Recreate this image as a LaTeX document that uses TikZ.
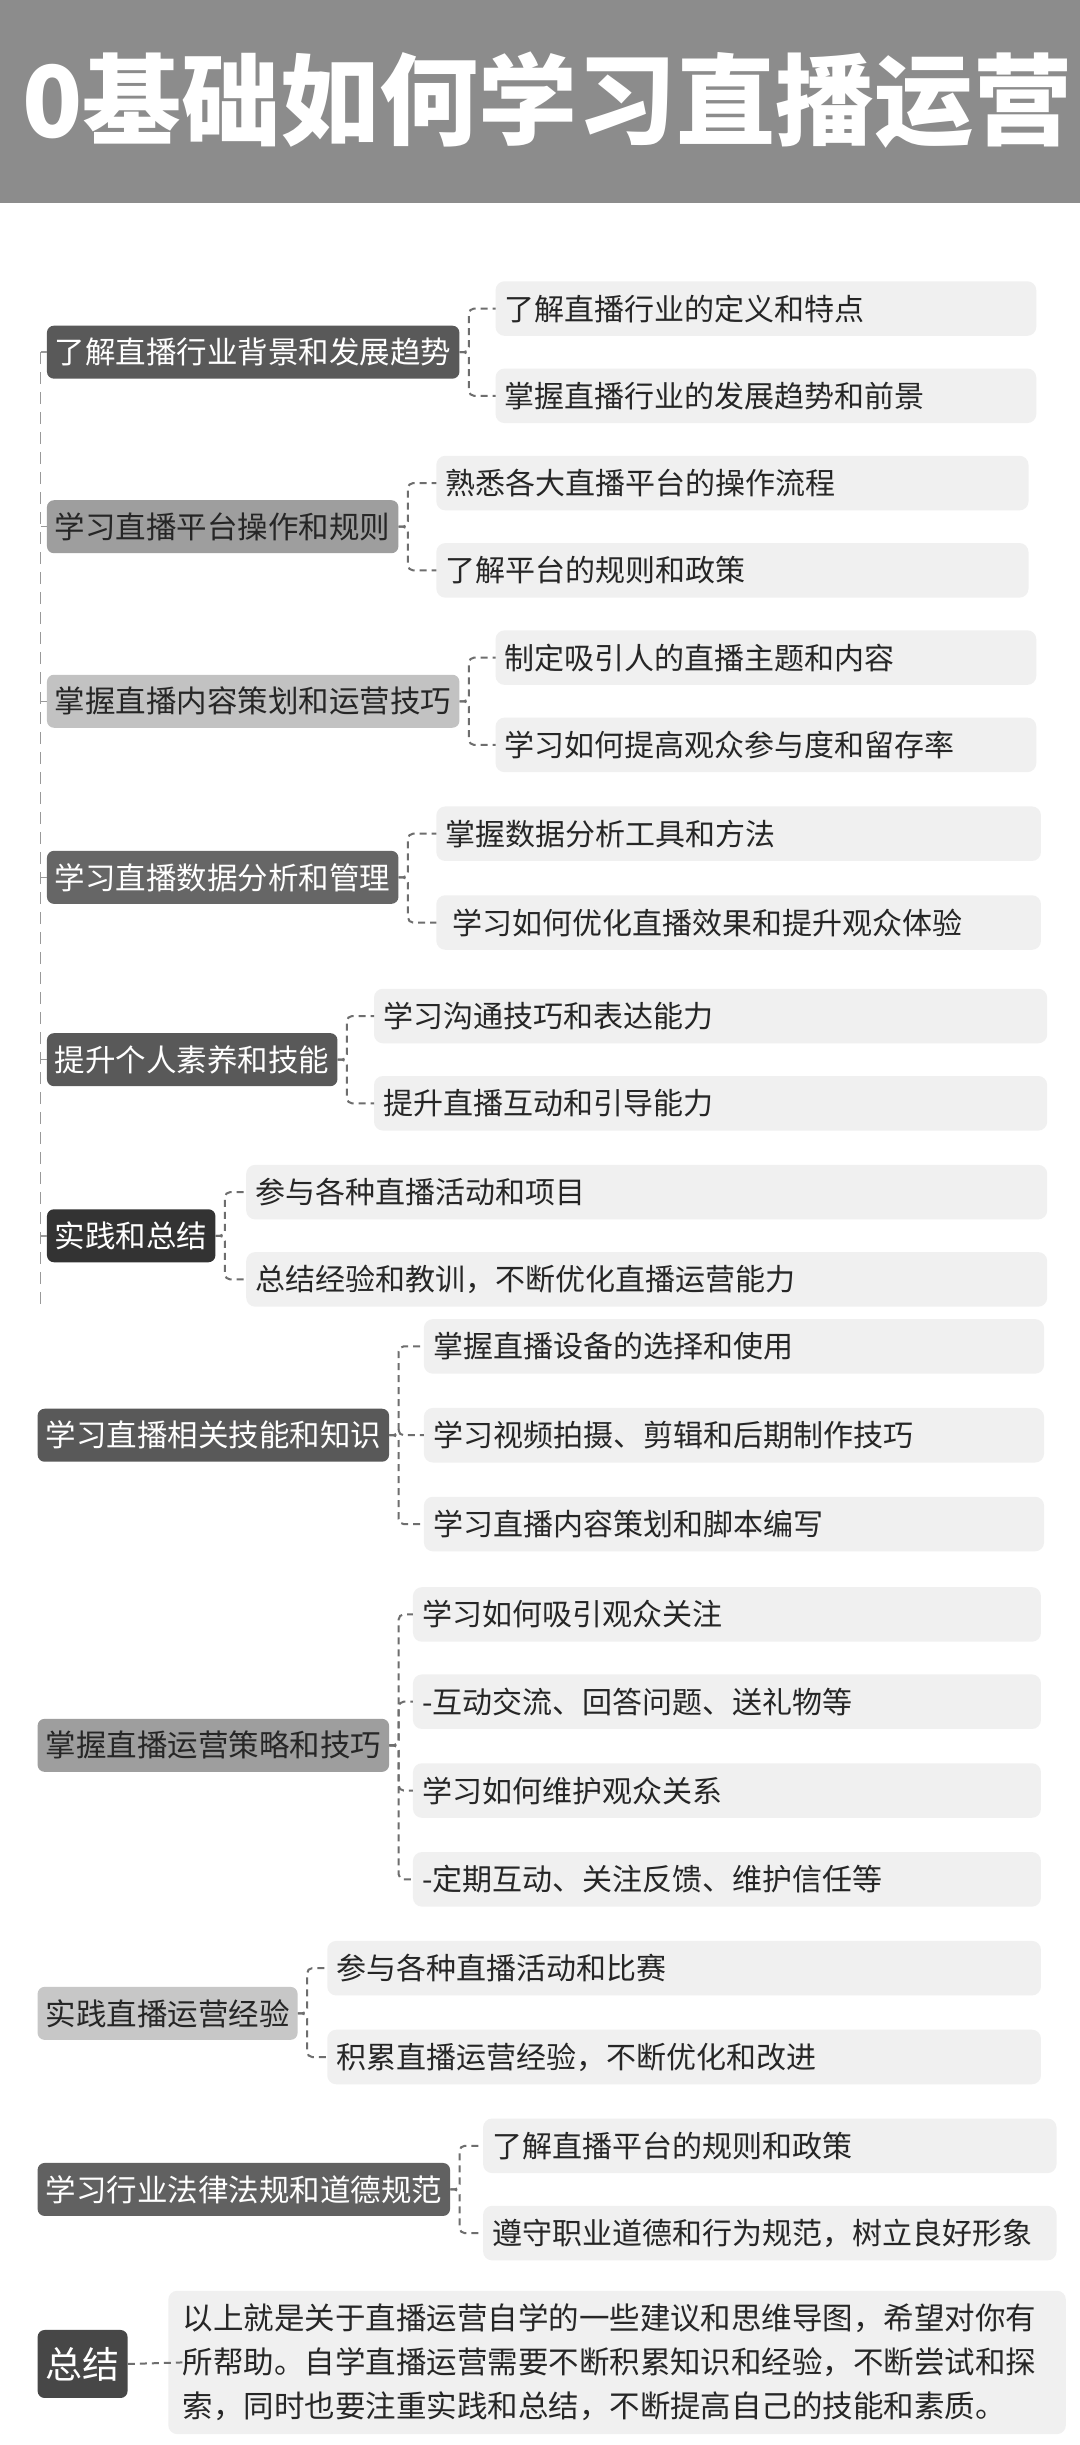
\documentclass[tikz,border=0pt]{standalone}
\usepackage{fontspec}
\setmainfont{Noto Sans CJK SC}
\usetikzlibrary{backgrounds}
\definecolor{bar}{HTML}{8C8C8C}
\definecolor{cfill}{HTML}{F0F0F0}
\definecolor{conn}{HTML}{6E6E6E}
\tikzset{
  mainbox/.style={rounded corners=7pt,inner xsep=8pt,inner ysep=0pt,minimum height=53pt,font=\fontsize{30.5}{33}\selectfont,anchor=west},
  childtext/.style={inner xsep=9pt,inner ysep=0pt,font=\fontsize{30}{34}\selectfont,text=black!85,anchor=west},
  cline/.style={draw=conn,line width=2pt,dash pattern=on 7pt off 5pt,rounded corners=5pt},
  trunk/.style={draw=black!40,line width=1.5pt,dash pattern=on 12pt off 8pt},
}
\newcommand{\cbox}[5]{%
  \fill[cfill,rounded corners=9pt] (#2,#4-17.5) rectangle (#3,#4+17.5);
  \node[childtext] (#1) at (#2,#4) {#5};}
\begin{document}
\begin{tikzpicture}[x=1.5584pt,y=-1.5584pt]
\useasboundingbox[fill=white] (0,0) rectangle (693,1569);
\fill[bar] (0,0) rectangle (693,130);
\node[anchor=west,text=white,font=\fontsize{99}{104}\selectfont\bfseries,inner sep=0pt] (title) at (14,64) {0基础如何学习直播运营};
% trunk
\coordinate (t1) at (26,226);
\coordinate (t6) at (26,840);
\draw[trunk] (t1) -- (t6);
% 1
\node[mainbox,fill=black!65,text=white] (m1) at (30,226) {了解直播行业背景和发展趋势};
\cbox{c11}{318}{665}{198}{了解直播行业的定义和特点}
\cbox{c12}{318}{665}{254}{掌握直播行业的发展趋势和前景}
% 2
\node[mainbox,fill=black!38,text=black!85] (m2) at (30,338) {学习直播平台操作和规则};
\cbox{c21}{280}{660}{310}{熟悉各大直播平台的操作流程}
\cbox{c22}{280}{660}{366}{了解平台的规则和政策}
% 3
\node[mainbox,fill=black!24,text=black!85] (m3) at (30,450) {掌握直播内容策划和运营技巧};
\cbox{c31}{318}{665}{422}{制定吸引人的直播主题和内容}
\cbox{c32}{318}{665}{478}{学习如何提高观众参与度和留存率}
% 4
\node[mainbox,fill=black!60,text=white] (m4) at (30,563) {学习直播数据分析和管理};
\cbox{c41}{280}{668}{535}{掌握数据分析工具和方法}
\cbox{c42}{280}{668}{592}{\ 学习如何优化直播效果和提升观众体验}
% 5
\node[mainbox,fill=black!65,text=white] (m5) at (30,680) {提升个人素养和技能};
\cbox{c51}{240}{672}{652}{学习沟通技巧和表达能力}
\cbox{c52}{240}{672}{708}{提升直播互动和引导能力}
% 6
\node[mainbox,fill=black!80,text=white] (m6) at (30,793) {实践和总结};
\cbox{c61}{158}{672}{765}{参与各种直播活动和项目}
\cbox{c62}{158}{672}{821}{总结经验和教训，不断优化直播运营能力}
% 7
\node[mainbox,fill=black!65,text=white] (m7) at (24,921) {学习直播相关技能和知识};
\cbox{c71}{272}{670}{864}{掌握直播设备的选择和使用}
\cbox{c72}{272}{670}{921}{学习视频拍摄、剪辑和后期制作技巧}
\cbox{c73}{272}{670}{978}{学习直播内容策划和脚本编写}
% 8
\node[mainbox,fill=black!38,text=black!85] (m8) at (24,1120) {掌握直播运营策略和技巧};
\cbox{c81}{265}{668}{1036}{学习如何吸引观众关注}
\cbox{c82}{265}{668}{1092}{-互动交流、回答问题、送礼物等}
\cbox{c83}{265}{668}{1149}{学习如何维护观众关系}
\cbox{c84}{265}{668}{1206}{-定期互动、关注反馈、维护信任等}
% 9
\node[mainbox,fill=black!22,text=black!85] (m9) at (24,1292) {实践直播运营经验};
\cbox{c91}{210}{668}{1263}{参与各种直播活动和比赛}
\cbox{c92}{210}{668}{1320}{积累直播运营经验，不断优化和改进}
% 10
\node[mainbox,fill=black!62,text=white] (m10) at (24,1405) {学习行业法律法规和道德规范};
\cbox{c101}{310}{678}{1377}{了解直播平台的规则和政策}
\cbox{c102}{310}{678}{1433}{遵守职业道德和行为规范，树立良好形象}
% 11
\node[mainbox,fill=black!72,text=white,font=\fontsize{37}{40}\selectfont,minimum height=68pt] (m11) at (24,1517) {总结};
\fill[cfill,rounded corners=9pt] (108,1470) rectangle (684,1562);
\node[anchor=west,align=left,inner sep=0pt,font=\fontsize{30.5}{44}\selectfont,text=black!85] (s) at (117,1516) {以上就是关于直播运营自学的一些建议和思维导图，希望对你有\\所帮助。自学直播运营需要不断积累知识和经验，不断尝试和探\\索，同时也要注重实践和总结，不断提高自己的技能和素质。};
% connectors
\foreach \m/\cs in {m1/{c11,c12},m2/{c21,c22},m3/{c31,c32},m4/{c41,c42},m5/{c51,c52},m6/{c61,c62},m7/{c71,c72,c73},m8/{c81,c82,c83,c84},m9/{c91,c92},m10/{c101,c102}}{
  \foreach \c in \cs { \draw[cline] (\m.east) -- ++(6,0) |- (\c.west); }
}
\draw[cline] (m11.east) -- (s.west);
\foreach \m in {m1,m2,m3,m4,m5,m6} { \draw[trunk,solid] (t1 |- \m.west) -- (\m.west); }
\end{tikzpicture}
\end{document}
